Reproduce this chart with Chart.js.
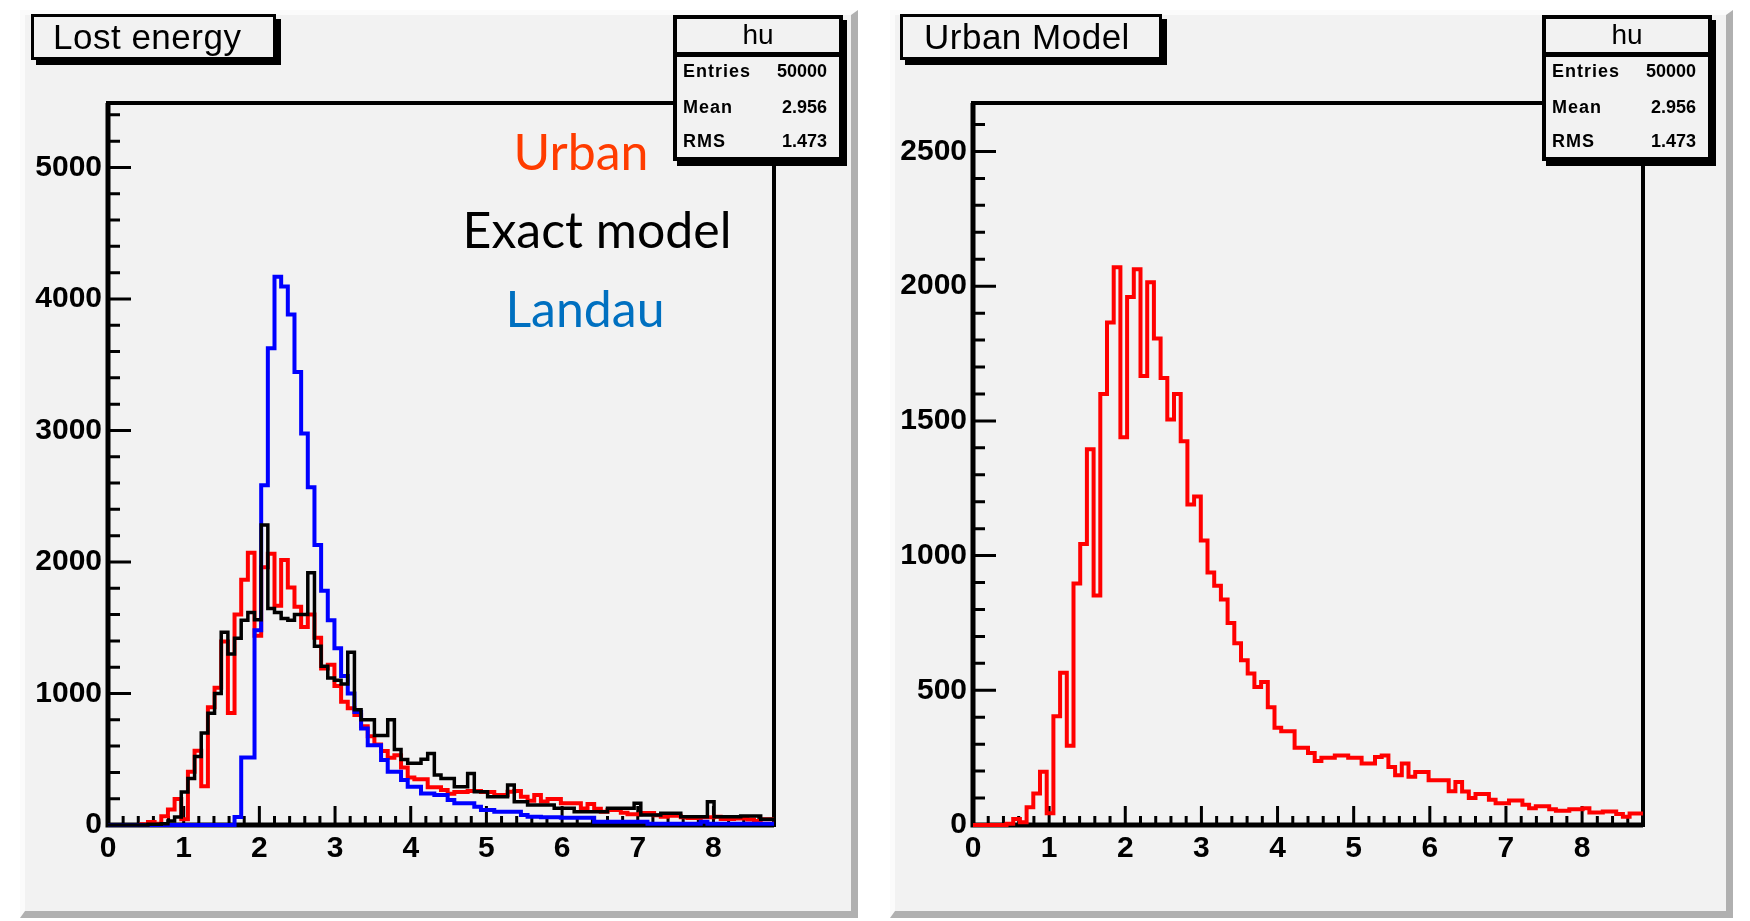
<!DOCTYPE html>
<html>
<head>
<meta charset="utf-8">
<title>Lost energy / Urban Model</title>
<script src="https://cdn.jsdelivr.net/npm/chart.js@4.4.1/dist/chart.umd.min.js"></script>
<style>
  html, body { margin: 0; padding: 0; background: #fff; }
  body { width: 1750px; height: 921px; position: relative; overflow: hidden;
         font-family: "Liberation Sans", Arial, sans-serif; color: #000; }
  .pad { position: absolute; top: 10px; height: 908px; box-sizing: border-box; background: #f2f2f2;
         border-left: 5px solid #fbfbfb; border-top: 5px solid #fbfbfb;
         border-right: 7px solid #b0b0b0; border-bottom: 7px solid #b0b0b0; }
  canvas { position: absolute; top: 10px; }
  .title { position: absolute; top: 14px; height: 46px; box-sizing: border-box; background: #f2f2f2;
           border: 3px solid #000; box-shadow: 5px 5px 0 #000; font-size: 35px; line-height: 40px;
           letter-spacing: 0.5px; white-space: nowrap; }
  .stats { position: absolute; top: 15px; width: 170px; height: 146px; box-sizing: border-box;
           background: #f2f2f2; border: 4px solid #000; box-shadow: 4px 5px 0 #000; }
  .stats .head { height: 31px; border-bottom: 5px solid #000; text-align: center;
                 font-size: 28px; line-height: 28px; padding-top: 2px; box-sizing: content-box; }
  .stats .row { position: absolute; left: 6px; right: 12px; display: flex; justify-content: space-between;
                font-size: 18px; line-height: 18px; font-weight: bold; }
  .stats .row span:first-child { letter-spacing: 1px; }
  .note { position: absolute; font-family: "Comic Sans MS", Lato, sans-serif; font-size: 50px;
          line-height: 50px; transform: translateX(-50%); white-space: nowrap; }
</style>
</head>
<body>
<div class="pad" style="left:20px; width:838px"></div>
<div class="pad" style="left:890px; width:843px"></div>

<canvas id="lost" width="838" height="908" style="left:20px"></canvas>
<canvas id="urban" width="843" height="908" style="left:890px"></canvas>

<div class="title" style="left:31px; width:245px; padding-left:19px">Lost energy</div>
<div class="title" style="left:900px; width:262px; padding-left:21px">Urban Model</div>

<div class="stats" style="left:673px">
  <div class="head">hu</div>
  <div class="row" style="top:43px"><span>Entries</span><span>50000</span></div>
  <div class="row" style="top:79px"><span>Mean</span><span>2.956</span></div>
  <div class="row" style="top:113px"><span>RMS</span><span>1.473</span></div>
</div>
<div class="stats" style="left:1542px">
  <div class="head">hu</div>
  <div class="row" style="top:43px"><span>Entries</span><span>50000</span></div>
  <div class="row" style="top:79px"><span>Mean</span><span>2.956</span></div>
  <div class="row" style="top:113px"><span>RMS</span><span>1.473</span></div>
</div>

<div class="note" style="left:581px; top:126px; color:#ff3c00">Urban</div>
<div class="note" style="left:597px; top:204px; color:#000">Exact model</div>
<div class="note" style="left:585px; top:283px; color:#0070c0">Landau</div>

<script>
// histogram range and bin contents (100 bins over 0..8.8)
const X_MIN = 0;
const X_MAX = 8.8;

const urban = [
  0, 0, 0, 0, 0, 5, 22, 10, 66, 117,
  198, 44, 404, 565, 294, 896, 1043, 1395, 852, 1600,
  1865, 2070, 1439, 1960, 2063, 1667, 2015, 1806, 1659, 1505,
  1600, 1424, 1190, 1219, 1056, 937, 888, 837, 750, 675,
  612, 562, 512, 531, 437, 361, 348, 348, 287, 287,
  267, 238, 250, 250, 258, 258, 250, 250, 228, 228,
  252, 258, 215, 185, 228, 179, 197, 197, 166, 166,
  166, 125, 160, 124, 100, 115, 115, 94, 81, 81,
  91, 91, 75, 62, 70, 70, 58, 53, 53, 58,
  58, 62, 46, 46, 50, 50, 41, 31, 43, 43
];

const exact = [
  0, 0, 0, 0, 0, 0, 5, 5, 10, 30,
  60, 250, 354, 520, 700, 850, 1000, 1465, 1300, 1420,
  1556, 1616, 1560, 2281, 1646, 1616, 1570, 1556, 1600, 1600,
  1918, 1360, 1208, 1118, 1100, 1072, 1314, 876, 800, 800,
  680, 680, 800, 574, 498, 470, 470, 500, 544, 380,
  354, 354, 291, 291, 392, 253, 253, 215, 215, 215,
  304, 177, 177, 152, 152, 152, 152, 127, 127, 127,
  101, 101, 101, 101, 101, 127, 127, 127, 127, 165,
  76, 76, 76, 89, 89, 89, 63, 63, 63, 63,
  177, 63, 63, 63, 63, 68, 68, 68, 43, 43
];

const landau = [
  0, 0, 0, 0, 0, 0, 0, 0, 0, 0,
  0, 0, 0, 0, 0, 0, 0, 0, 0, 60,
  514, 514, 1480, 2583, 3625, 4169, 4094, 3882, 3444, 2976,
  2568, 2130, 1782, 1556, 1344, 1133, 1000, 860, 734, 607,
  607, 494, 405, 405, 342, 291, 291, 239, 239, 228,
  228, 190, 165, 165, 165, 139, 114, 114, 101, 101,
  101, 101, 76, 63, 63, 58, 58, 58, 55, 55,
  55, 55, 55, 25, 25, 25, 25, 25, 25, 25,
  25, 10, 10, 10, 10, 10, 10, 10, 10, 25,
  10, 10, 10, 10, 10, 10, 10, 10, 10, 10
];

const xTicks = [0, 1, 2, 3, 4, 5, 6, 7, 8];
const yTicksLost = [0, 1000, 2000, 3000, 4000, 5000];
const yTicksUrban = [0, 500, 1000, 1500, 2000, 2500];

// bin contents -> step points at the left bin edges, closed at X_MAX
function steps(counts) {
  const w = (X_MAX - X_MIN) / counts.length;
  const pts = counts.map((v, i) => ({ x: X_MIN + i * w, y: v }));
  pts.push({ x: X_MAX, y: counts[counts.length - 1] });
  return pts;
}

function hist(counts, color, width) {
  return {
    data: steps(counts),
    borderColor: color,
    borderWidth: width,
    // 'before': hold each bin's value across to the next edge, then step
    stepped: "before",
    pointRadius: 0,
    fill: false,
    clip: false,
    borderJoinStyle: "miter",
    borderCapStyle: "butt",
  };
}

// ROOT-like frame with tick marks pointing into the plot
const rootFrame = {
  id: "rootFrame",
  beforeDatasetsDraw(chart, args, opts) {
    const { ctx, chartArea: a, scales: { x, y } } = chart;
    ctx.save();
    ctx.strokeStyle = "#000";
    ctx.lineWidth = 4;
    ctx.strokeRect(a.left, a.top, a.right - a.left, a.bottom - a.top);
    ctx.lineWidth = 5;
    ctx.beginPath();
    ctx.moveTo(a.left, a.top);
    ctx.lineTo(a.left, a.bottom);
    ctx.lineTo(a.right, a.bottom);
    ctx.stroke();

    ctx.lineWidth = 3;
    ctx.beginPath();
    const nx = Math.round((X_MAX - X_MIN) / 0.2);
    for (let k = 0; k <= nx; k++) {
      const px = x.getPixelForValue(X_MIN + k * 0.2);
      const len = k % 5 === 0 ? 19 : 9;
      ctx.moveTo(px, a.bottom);
      ctx.lineTo(px, a.bottom - len);
    }
    const ny = Math.floor(y.max / opts.minor);
    for (let k = 0; k <= ny; k++) {
      const v = k * opts.minor;
      const py = y.getPixelForValue(v);
      const len = v % opts.major === 0 ? 23 : 12;
      ctx.moveTo(a.left, py);
      ctx.lineTo(a.left + len, py);
    }
    ctx.stroke();
    ctx.restore();
  },
};

Chart.register(rootFrame);

const tickFont = { family: "'Liberation Sans', Arial, sans-serif", size: 30, weight: "bold" };

function panel(id, datasets, yMax, yTicks, minor, major, axisWidth, rightPad) {
  return new Chart(document.getElementById(id), {
    type: "line",
    data: { datasets },
    options: {
      responsive: false,
      animation: false,
      events: [],
      layout: { padding: { top: 93, right: rightPad, left: 0, bottom: 0 } },
      plugins: {
        legend: { display: false },
        tooltip: { enabled: false },
        rootFrame: { minor, major },
      },
      scales: {
        x: {
          type: "linear",
          min: X_MIN,
          max: X_MAX,
          grid: { display: false, drawTicks: false },
          border: { display: false },
          afterBuildTicks: (s) => { s.ticks = xTicks.map((v) => ({ value: v })); },
          afterFit: (s) => { s.height = 93; },
          ticks: { font: tickFont, color: "#000", padding: 6, maxRotation: 0,
                   autoSkip: false, callback: (v) => String(v) },
        },
        y: {
          type: "linear",
          min: 0,
          max: yMax,
          grid: { display: false, drawTicks: false },
          border: { display: false },
          afterBuildTicks: (s) => { s.ticks = yTicks.map((v) => ({ value: v })); },
          afterFit: (s) => { s.width = axisWidth; },
          ticks: { font: tickFont, color: "#000", padding: 6, includeBounds: false,
                   callback: (v) => String(v) },
        },
      },
    },
  });
}

panel("lost", [
  hist(exact, "#000000", 3.5),
  hist(landau, "#0000ff", 4),
  hist(urban, "#ff0000", 4),
], 5490, yTicksLost, 200, 1000, 88, 84);

panel("urban", [
  hist(urban, "#ff0000", 4),
], 2680, yTicksUrban, 100, 500, 83, 90);
</script>
</body>
</html>
